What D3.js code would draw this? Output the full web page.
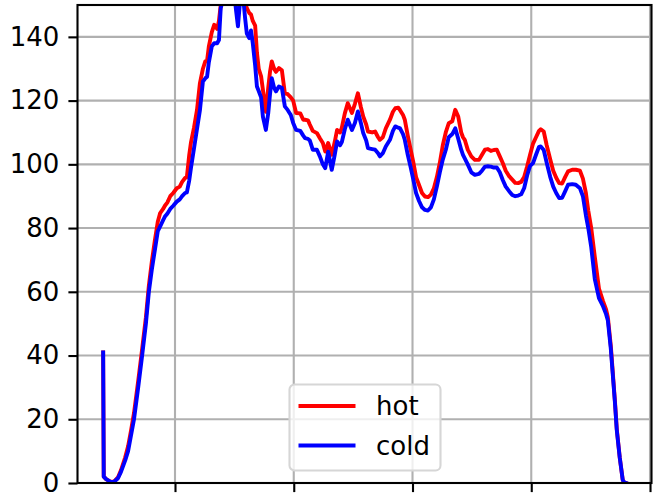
<!DOCTYPE html>
<html>
<head>
<meta charset="utf-8">
<script src="https://cdn.jsdelivr.net/npm/d3@7"></script>
<style>
  html, body { margin: 0; padding: 0; background: #fff; }
  svg { display: block; }
</style>
</head>
<body>
<svg id="chart" width="654" height="502"></svg>
<script>
// ---- data ----
const xValues = [79,80,84,91,97,104,109,116,121,126,131,138,144,151,156,161,166,171,175,180,183,187,192,197,203,208,212,217,220,224,227,232,237,242,247,251,254,257,262,266,271,274,277,281,286,293,299,303,306,309,315,318,321,325,328,331,335,338,341,345,348,353,357,360,363,367,370,375,380,385,390,395,399,404,411,416,419,424,427,432,439,444,449,453,458,464,469,473,478,481,486,491,498,503,508,513,517,522,525,532,537,542,545,550,555,562,567,571,576,579,584,587,592,597,601,606,611,616,621,626,631,636,641,646,651,656,661,667,672,677,682,685,688,693,699,705,712,717,722,727,732,737,742,747,752,757,763,768,773,778,783,788,793,798,803,808,813,816,821,826,832,837,842,847,852,857,862,869,875,882,887,892,896,901,907,914,921,926,929,934,938,941,944,949,954,956,960];

const coldValues = [41,2,1.2,0.4,0.3,1.5,3.5,7,10,15,20,30,39,50,60,67,73,79,80.5,82.5,83.6,84.5,86,87,88.3,89,90,91,91.2,95,99,105,111,117,126,127,127.5,132,137,138,138,139,149,152,158,160,155,148,143.3,150,152,146,141,139.6,142,138,131,124.4,123,121,115,110.8,116,122,127,124,122.9,124.4,124,118.2,117,115.5,113,110.8,110.5,109,108.2,108,107.5,104.6,104.6,102.5,100,98.8,104,98.3,103,107.2,106,107,111,114,110.8,113,116.6,113,109.8,107.5,105.1,104.8,104.6,103.5,102.5,103.5,105.6,107.7,110.5,111.9,111.5,111.3,109.5,107.7,103,99,95.5,91,88.5,86.5,85.7,85.5,86.5,89,93,97.5,101.5,104.5,108.5,109.5,111.3,108,104.6,103,101.9,100,97.5,96.7,97,98,99.3,99.4,99.3,99,99,97.5,95.1,93,91.5,90.4,90,90.2,90.6,92.5,96.5,99.5,100.4,103,105.5,105.6,104.5,100.5,96,93,91,89.4,89.5,91.5,93.6,93.8,93.6,92.5,90,84,80,74,64,58,55.4,53,51,42,32.3,25,16.6,8,1,0.3,0];

const hotValues = [41,2,1.2,0.4,0.4,1.8,4,8,11.5,16.5,22,32,41,52,62,69.5,76,82,84.7,86,87,88,90,91,92.5,93,94.5,95.7,96,103,107,111.5,117,125.5,130,132.3,132.5,137,141.5,143.8,142.5,145,150,155,160,162,160,158,156,155,154,151,149,147.5,147,145,143.5,135,130,127.6,123.5,116.5,124,129,132.3,130,129,130.2,129.5,122.3,122,121,120,116.1,116,114,114,113.8,112.5,110.5,109.8,108.2,106.7,104,106.7,103,107,110.8,110,111.5,116,119.2,116.1,119,122.3,118,115,112.5,110.3,110,110.3,108.5,107.7,108.5,111.3,114,116.5,117.6,117.8,117,115.5,114,109,104.5,101,96,93.5,91,89.9,89.7,90.5,92.5,96,100.5,106,110,112.9,113.5,117.1,115,110,108.5,107.7,104.6,102.5,101.4,101.4,103,104.6,104.8,104.2,104.5,104.6,102.5,100.4,98,96.2,95.2,94.2,94.1,94.5,96,99.3,103,106.5,108.5,110.5,111,110.3,106,101.5,98,95.8,94.1,94,96,97.8,98.3,98.3,98,95.5,91,85.5,80,71,61,57,54.5,52,43,33,25.5,17,8,1,0.3,0];

const seriesNames = ["hot", "cold"];
const seriesColors = ["#ff0000", "#0000ff"];
const yTickValues = [0, 20, 40, 60, 80, 100, 120, 140];
const xTickValues = [200, 400, 600, 800, 1000];
const xDomain = [35.8, 1002.5];
const yDomain = [0, 150];

// ---- layout ----
const W = 654, H = 502;
const margin = { left: 77.5, top: 5, right: 2.5, bottom: 19 };
const plotW = W - margin.left - margin.right;
const plotH = H - margin.top - margin.bottom;
const FONT = "'DejaVu Sans', sans-serif";
const FS = 26;

const svg = d3.select("#chart");
const x = d3.scaleLinear().domain(xDomain).range([margin.left, margin.left + plotW]);
const y = d3.scaleLinear().domain(yDomain).range([margin.top + plotH, margin.top]);

svg.append("rect").attr("width", W).attr("height", H).attr("fill", "#fff");

// grid
const grid = svg.append("g");
grid.selectAll("line.gy").data(yTickValues).join("line")
  .attr("x1", margin.left).attr("x2", margin.left + plotW)
  .attr("y1", d => y(d)).attr("y2", d => y(d))
  .attr("stroke", "#b0b0b0").attr("stroke-width", 2.1);
grid.selectAll("line.gx").data(xTickValues).join("line")
  .attr("y1", margin.top).attr("y2", margin.top + plotH)
  .attr("x1", d => x(d)).attr("x2", d => x(d))
  .attr("stroke", "#b0b0b0").attr("stroke-width", 2.1);

// clip
svg.append("clipPath").attr("id", "clip").append("rect")
  .attr("x", margin.left).attr("y", margin.top).attr("width", plotW).attr("height", plotH);

const data = xValues.map((xv, i) => ({ x: xv, hot: hotValues[i], cold: coldValues[i] }));
const plotG = svg.append("g").attr("clip-path", "url(#clip)");
seriesNames.forEach((name, i) => {
  const line = d3.line().x(d => x(d.x)).y(d => y(d[name]));
  plotG.append("path").datum(data)
    .attr("d", line)
    .attr("fill", "none")
    .attr("stroke", seriesColors[i])
    .attr("stroke-width", 3.9)
    .attr("stroke-linejoin", "round")
    .attr("stroke-linecap", "square");
});

// axes
const yAxis = d3.axisLeft(y).tickValues(yTickValues).tickSize(9.1).tickPadding(9).tickFormat(d3.format("d"));
const yG = svg.append("g").attr("transform", `translate(${margin.left},0)`).call(yAxis);
const xAxis = d3.axisBottom(x).tickValues(xTickValues).tickSize(9.1).tickFormat("");
const xG = svg.append("g").attr("transform", `translate(0,${margin.top + plotH})`).call(xAxis);
[yG, xG].forEach(g => {
  g.select(".domain").remove();
  g.selectAll(".tick line").attr("stroke", "#000").attr("stroke-width", 2.1);
  g.selectAll("text").attr("font-family", FONT).attr("font-size", FS).attr("fill", "#000");
});

// spines
svg.append("rect")
  .attr("x", margin.left).attr("y", margin.top).attr("width", plotW).attr("height", plotH)
  .attr("fill", "none").attr("stroke", "#000").attr("stroke-width", 2.1);

// legend
const lg = svg.append("g").attr("transform", "translate(289.5,384.5)");
lg.append("rect").attr("width", 151).attr("height", 86).attr("rx", 5).attr("ry", 5)
  .attr("fill", "#fff").attr("fill-opacity", 0.8)
  .attr("stroke", "#d6d6d6").attr("stroke-width", 2.1);
seriesNames.forEach((name, i) => {
  const cy = 21.5 + i * 39.5;
  lg.append("line").attr("x1", 9).attr("x2", 66).attr("y1", cy).attr("y2", cy)
    .attr("stroke", seriesColors[i]).attr("stroke-width", 3.9);
  lg.append("text").attr("x", 86.5).attr("y", cy).attr("dy", "0.35em")
    .attr("font-family", FONT).attr("font-size", FS).attr("fill", "#000").text(name);
});
</script>
</body>
</html>
